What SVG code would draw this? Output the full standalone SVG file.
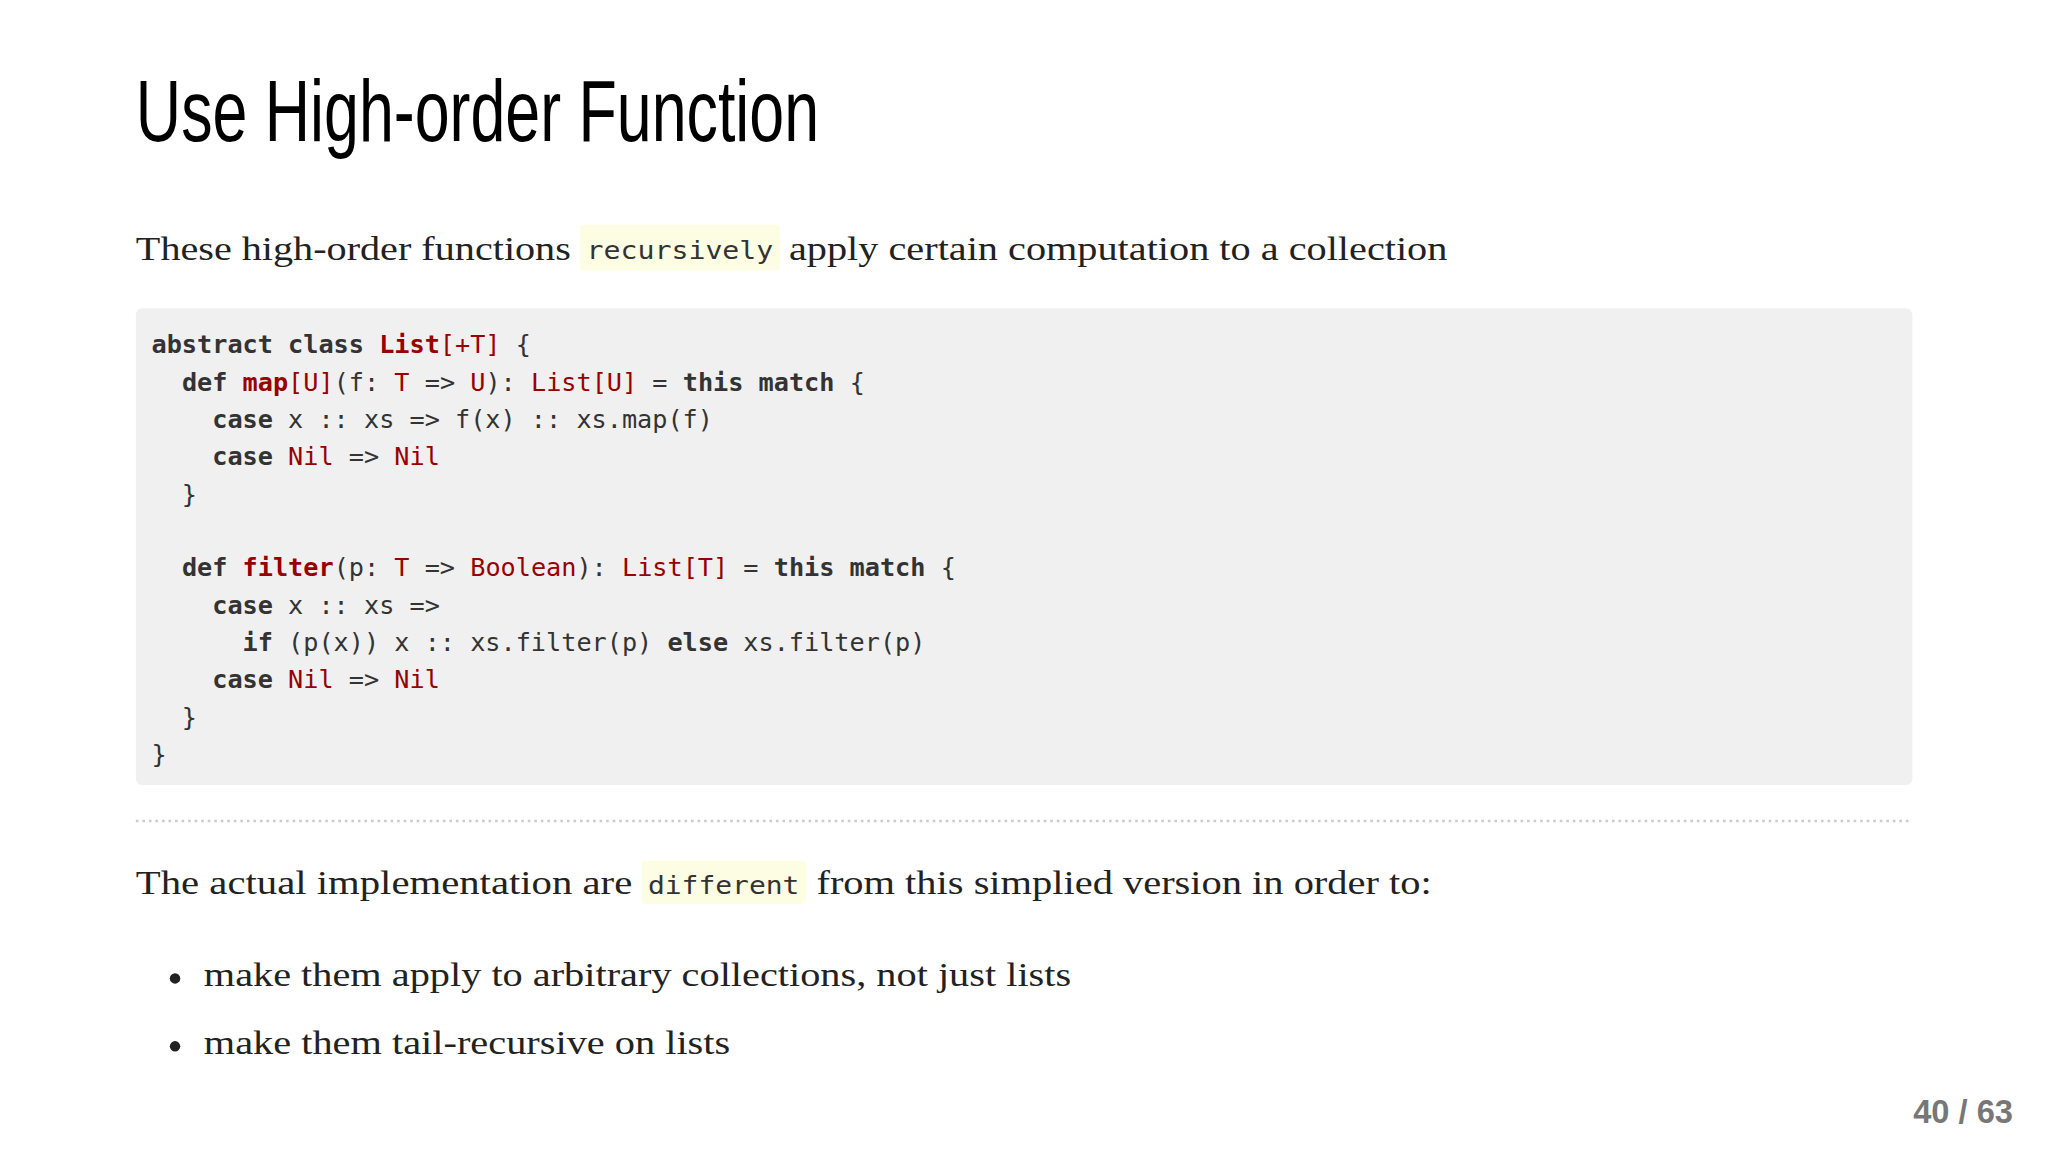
<svg xmlns="http://www.w3.org/2000/svg" width="2048" height="1152" viewBox="0 0 2048 1152">
<style>
.s{font-family:"Liberation Serif","DejaVu Serif",serif;font-size:26px;fill:#222}
.c{font-family:"DejaVu Sans Mono","Liberation Mono",monospace;font-size:19.3px;fill:#333;white-space:pre}
.k{font-weight:bold}
.t{fill:#990000}
.tb{fill:#990000;font-weight:bold}
.hl{fill:#fdfde3}
</style>
<rect width="2048" height="1152" fill="#ffffff"/>
<g transform="scale(1.3063)">
<g id="title"><text x="104" y="108" font-family="Liberation Sans, sans-serif" font-size="66" fill="#000" textLength="523" lengthAdjust="spacingAndGlyphs">Use High-order Function</text></g>
<g id="intro">
<rect class="hl" x="444" y="172" width="153" height="35" rx="3"/>
<text class="s" x="104" y="199" textLength="333" lengthAdjust="spacingAndGlyphs">These high-order functions</text>
<text class="c" x="449" y="198" font-size="21" fill="#222" textLength="143" lengthAdjust="spacingAndGlyphs">recursively</text>
<text class="s" x="604" y="199" textLength="504" lengthAdjust="spacingAndGlyphs">apply certain computation to a collection</text>
</g>
<g id="code">
<rect x="104" y="236" width="1360" height="365" rx="5" fill="#f0f0f0"/>
<text class="c" xml:space="preserve">
<tspan x="116" y="270"><tspan class="k">abstract class </tspan><tspan class="tb">List</tspan><tspan class="t">[+T]</tspan> {</tspan>
<tspan x="116" y="299">  <tspan class="k">def </tspan><tspan class="tb">map</tspan><tspan class="t">[U]</tspan>(f: <tspan class="t">T</tspan> =&gt; <tspan class="t">U</tspan>): <tspan class="t">List[U]</tspan> = <tspan class="k">this match</tspan> {</tspan>
<tspan x="116" y="328">    <tspan class="k">case</tspan> x :: xs =&gt; f(x) :: xs.map(f)</tspan>
<tspan x="116" y="356">    <tspan class="k">case</tspan> <tspan class="t">Nil</tspan> =&gt; <tspan class="t">Nil</tspan></tspan>
<tspan x="116" y="385">  }</tspan>
<tspan x="116" y="441">  <tspan class="k">def </tspan><tspan class="tb">filter</tspan>(p: <tspan class="t">T</tspan> =&gt; <tspan class="t">Boolean</tspan>): <tspan class="t">List[T]</tspan> = <tspan class="k">this match</tspan> {</tspan>
<tspan x="116" y="470">    <tspan class="k">case</tspan> x :: xs =&gt;</tspan>
<tspan x="116" y="498">      <tspan class="k">if</tspan> (p(x)) x :: xs.filter(p) <tspan class="k">else</tspan> xs.filter(p)</tspan>
<tspan x="116" y="527">    <tspan class="k">case</tspan> <tspan class="t">Nil</tspan> =&gt; <tspan class="t">Nil</tspan></tspan>
<tspan x="116" y="556">  }</tspan>
<tspan x="116" y="584">}</tspan>
</text>
</g>
<g id="separator"><line x1="104" y1="628.5" x2="1464" y2="628.5" stroke="#cccccc" stroke-width="2" stroke-dasharray="2,3"/></g>
<g id="para2">
<rect class="hl" x="491" y="659" width="126" height="33" rx="3"/>
<text class="s" x="104" y="684" textLength="380" lengthAdjust="spacingAndGlyphs">The actual implementation are</text>
<text class="c" x="496" y="684" font-size="21" fill="#222" textLength="116" lengthAdjust="spacingAndGlyphs">different</text>
<text class="s" x="625" y="684" textLength="471" lengthAdjust="spacingAndGlyphs">from this simplied version in order to:</text>
</g>
<g id="bullets">
<circle cx="134" cy="749" r="4" fill="#222"/>
<text class="s" x="156" y="755" textLength="664" lengthAdjust="spacingAndGlyphs">make them apply to arbitrary collections, not just lists</text>
<circle cx="134" cy="801" r="4" fill="#222"/>
<text class="s" x="156" y="807" textLength="403" lengthAdjust="spacingAndGlyphs">make them tail-recursive on lists</text>
</g>
<g id="page"><text x="1541" y="860" text-anchor="end" font-family="Liberation Sans, sans-serif" font-weight="bold" font-size="25" fill="#777">40 / 63</text></g>
</g>
</svg>
